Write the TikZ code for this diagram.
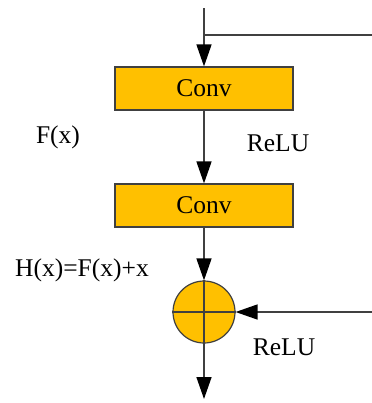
\documentclass[tikz,border=0pt]{standalone}
\usepackage{fontspec}
\setmainfont{Liberation Serif}
\usetikzlibrary{arrows.meta}
\definecolor{boxfill}{HTML}{FFC000}
\definecolor{linec}{HTML}{404040}
\tikzset{
  convbox/.style={draw=linec, line width=1.2bp, fill=boxfill, minimum width=178bp, minimum height=43bp, inner sep=0pt, font=\fontsize{25.5bp}{30bp}\selectfont},
  sumnode/.style={circle, draw=linec, line width=1.2bp, fill=boxfill, minimum size=62bp, inner sep=0pt},
  conn/.style={draw=linec, line width=1.5bp},
  arr/.style={conn, -{Triangle[length=22bp, width=15bp, fill=black, color=black]}},
  lbl/.style={font=\fontsize{25.5bp}{30bp}\selectfont, inner sep=0pt}
}
\begin{document}
\begin{tikzpicture}[x=1bp, y=-1bp]
\useasboundingbox (0,0) rectangle (372,403);
\node[convbox] (c1) at (204,88.5) {Conv};
\node[convbox] (c2) at (204,205.5) {Conv};
\node[sumnode] (sum) at (204,312) {};
\coordinate (top) at (204,8);
\coordinate (br) at (204,35);
\coordinate (bre) at (372,35);
\coordinate (re) at (372,312);
\coordinate (out) at (204,399);
\draw[arr] (top) -- (c1.north);
\draw[conn] (br) -- (bre);
\draw[arr] (c1.south) -- (c2.north);
\draw[arr] (c2.south) -- (sum.north);
\draw[arr] (re) -- (sum.east);
\draw[arr] (sum.south) -- (out);
\draw[draw=linec, line width=1.2bp] (sum.north) -- (sum.south) (sum.west) -- (sum.east);
\node[lbl] (fx) at (58,137) {F(x)};
\node[lbl] (relu1) at (278,143) {ReLU};
\node[lbl] (hx) at (82,270) {H(x)=F(x)+x};
\node[lbl] (relu2) at (284,347) {ReLU};
\end{tikzpicture}
\end{document}
